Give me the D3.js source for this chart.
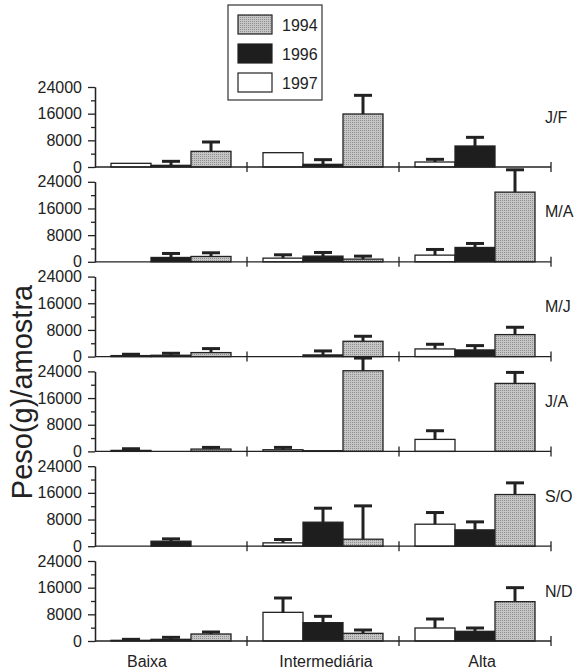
<!DOCTYPE html>
<html>
<head>
<meta charset="utf-8">
<script src="https://cdn.jsdelivr.net/npm/d3@7"></script>
<style>
body { margin: 0; background: #fff; }
text { font-family: "Liberation Sans", Arial, sans-serif; fill: #222; }
</style>
</head>
<body>
<svg id="chart"></svg>
<script>
var screen = {width: 587, height: 672};

var periods = ["J/F", "M/A", "M/J", "J/A", "S/O", "N/D"];
var groups = ["Baixa", "Intermediária", "Alta"];
var years = ["1997", "1996", "1994"];
var legendYears = ["1994", "1996", "1997"];
var yTicks = [0, 8000, 16000, 24000];
var yMinor = [4000, 12000, 20000];

// mean per period, [Baixa, Intermediária, Alta]
var mean1997 = [[1100, 4300, 1500], [0, 1100, 2000], [300, 0, 2300], [300, 500, 3600], [0, 1000, 6600], [200, 8600, 3900]];
var mean1996 = [[500, 800, 6300], [1300, 1700, 4300], [400, 500, 2000], [0, 200, 0], [1500, 7200, 4900], [500, 5500, 2900]];
var mean1994 = [[4700, 15900, 0], [1600, 800, 20900], [1200, 4600, 6600], [700, 24200, 20400], [0, 2100, 15500], [2100, 2300, 11800]];
// top of error bar (mean + error)
var top1997 = [[1100, 4300, 2300], [0, 2100, 3700], [700, 0, 3700], [800, 1200, 6200], [0, 2000, 10100], [500, 12900, 6600]];
var top1996 = [[1700, 2200, 8900], [2500, 2800, 5500], [1000, 1700, 3300], [0, 200, 0], [2200, 11400, 7300], [1100, 7400, 3900]];
var top1994 = [[7500, 21500, 0], [2700, 1700, 27600], [2400, 6100, 8800], [1200, 28000, 23700], [0, 12100, 19000], [2700, 3300, 16000]];

var means = {"1997": mean1997, "1996": mean1996, "1994": mean1994};
var tops = {"1997": top1997, "1996": top1996, "1994": top1994};

var svg = d3.select("#chart")
    .attr("width", screen.width)
    .attr("height", screen.height);

var defs = svg.append("defs");
var pat = defs.append("pattern")
    .attr("id", "stip")
    .attr("width", 2).attr("height", 2)
    .attr("patternUnits", "userSpaceOnUse");
pat.append("rect").attr("width", 2).attr("height", 2).attr("fill", "#c6c6c6");
pat.append("rect").attr("x", 0).attr("y", 0).attr("width", 1).attr("height", 1).attr("fill", "#8e8e8e");

var fills = {"1994": "url(#stip)", "1996": "#1e1e1e", "1997": "#ffffff"};

var xGroup = d3.scaleBand().domain(groups).range([95, 551]);
var xBar = d3.scaleBand().domain(years).range([16, xGroup.bandwidth() - 16]);
var panelBase = d3.scalePoint().domain(periods).range([167, 641]);
var labelShift = [-24, 3, 7];

var drawPanel = function(period, p)
{
    var base = panelBase(period);
    var y = d3.scaleLinear().domain([0, 24000]).range([base, base - 80]);
    var g = svg.append("g").attr("class", "panel");

    years.forEach(function(yr) {
        var rows = groups.map(function(gr, i) {
            return {group: gr, mean: means[yr][p][i], top: tops[yr][p][i]};
        });

        g.selectAll(".bar" + yr)
            .data(rows.filter(function(d) { return d.mean > 0; }))
            .enter()
            .append("rect")
            .attr("x", function(d) { return xGroup(d.group) + xBar(yr); })
            .attr("width", xBar.bandwidth())
            .attr("y", function(d) { return y(d.mean); })
            .attr("height", function(d) { return base - y(d.mean); })
            .attr("fill", fills[yr])
            .attr("stroke", "#222")
            .attr("stroke-width", 1.3);

        var errs = g.selectAll(".err" + yr)
            .data(rows.filter(function(d) { return d.top > d.mean; }))
            .enter()
            .append("g")
            .attr("stroke", "#222")
            .attr("stroke-width", 3);

        errs.append("line")
            .attr("x1", function(d) { return xGroup(d.group) + xBar(yr) + xBar.bandwidth() / 2; })
            .attr("x2", function(d) { return xGroup(d.group) + xBar(yr) + xBar.bandwidth() / 2; })
            .attr("y1", function(d) { return y(d.mean); })
            .attr("y2", function(d) { return y(d.top); });

        errs.append("line")
            .attr("x1", function(d) { return xGroup(d.group) + xBar(yr) + xBar.bandwidth() / 2 - 9; })
            .attr("x2", function(d) { return xGroup(d.group) + xBar(yr) + xBar.bandwidth() / 2 + 9; })
            .attr("y1", function(d) { return y(d.top); })
            .attr("y2", function(d) { return y(d.top); });
    });

    var yAxis = d3.axisLeft(y).tickValues(yTicks).tickFormat(d3.format("d"))
        .tickSize(7).tickPadding(6).tickSizeOuter(0);
    var yAxisMinor = d3.axisLeft(y).tickValues(yMinor).tickSize(4).tickFormat("").tickSizeOuter(0);

    var ag = g.append("g").attr("transform", "translate(95,0)").call(yAxis);
    g.append("g").attr("transform", "translate(95,0)").call(yAxisMinor);
    ag.selectAll("text")
        .style("font-size", "16px")
        .style("font-family", "'Liberation Sans', Arial, sans-serif")
        .attr("fill", "#222");
    g.selectAll(".domain, .tick line").attr("stroke", "#222").attr("stroke-width", 1.3);

    g.append("line")
        .attr("x1", xGroup.range()[0]).attr("x2", xGroup.range()[1])
        .attr("y1", base).attr("y2", base)
        .attr("stroke", "#222").attr("stroke-width", 1.3);

    g.selectAll(".xtick")
        .data(groups)
        .enter()
        .append("line")
        .attr("x1", function(d) { return xGroup(d) + xGroup.bandwidth(); })
        .attr("x2", function(d) { return xGroup(d) + xGroup.bandwidth(); })
        .attr("y1", base - 5).attr("y2", base + 5)
        .attr("stroke", "#222").attr("stroke-width", 1.3);

    g.append("text")
        .attr("x", 545)
        .attr("y", base - 50)
        .attr("dy", "0.35em")
        .style("font-size", "16px")
        .text(period);
}

periods.forEach(drawPanel);

svg.selectAll(".xlabel")
    .data(groups)
    .enter()
    .append("text")
    .attr("x", function(d, i) { return xGroup(d) + xGroup.bandwidth() / 2 + labelShift[i]; })
    .attr("y", 667)
    .style("text-anchor", "middle")
    .style("font-size", "16px")
    .text(function(d) { return d; });

svg.append("text")
    .attr("transform", "translate(32,392) rotate(-90)")
    .style("text-anchor", "middle")
    .style("font-size", "29px")
    .text("Peso(g)/amostra");

var legend = svg.append("g").attr("id", "legend");
legend.append("rect")
    .attr("x", 228).attr("y", 5).attr("width", 94).attr("height", 95)
    .attr("fill", "#fff").attr("stroke", "#333").attr("stroke-width", 1.2);

var lg = legend.selectAll(".item")
    .data(legendYears)
    .enter()
    .append("g")
    .attr("transform", function(d, i) { return "translate(238," + (15 + i * 29) + ")"; });

lg.append("rect")
    .attr("width", 34).attr("height", 19)
    .attr("fill", function(d) { return fills[d]; })
    .attr("stroke", "#222").attr("stroke-width", 1.2);

lg.append("text")
    .attr("x", 44).attr("y", 10).attr("dy", "0.35em")
    .style("font-size", "16px")
    .text(function(d) { return d; });
</script>
</body>
</html>
